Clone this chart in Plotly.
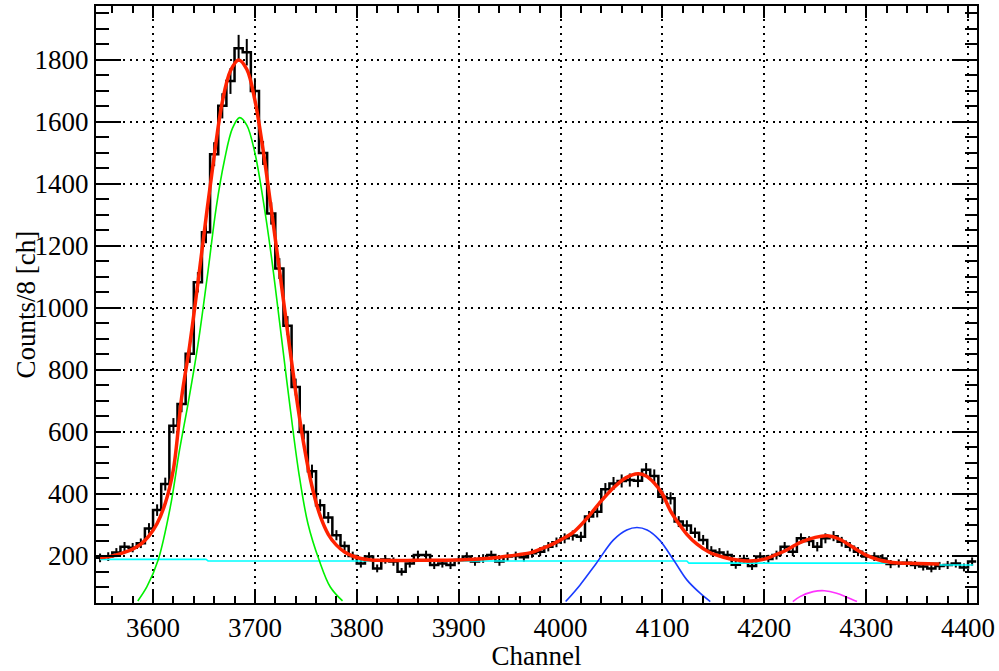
import numpy as np
import plotly.graph_objects as go

# ---------------- data ----------------
BIN_LOW = 3544
BIN_WIDTH = 8

counts = [
    194, 198, 211, 230, 227, 241, 289, 348, 432, 620,
    690, 852, 1083, 1244, 1496, 1652, 1732, 1838, 1825, 1700,
    1500, 1305, 1127, 943, 745, 600, 473, 364, 324, 267,
    232, 200, 176, 198, 160, 189, 182, 149, 176, 203,
    203, 171, 176, 171, 187, 198, 182, 192, 203, 182,
    198, 200, 196, 209, 214, 230, 244, 257, 266, 262,
    327, 343, 415, 434, 442, 445, 443, 478, 458, 391,
    386, 311, 298, 275, 252, 217, 211, 203, 172, 190,
    168, 198, 190, 203, 230, 214, 257, 248, 230, 257,
    264, 246, 230, 214, 198, 198, 192, 174, 176, 178,
    171, 166, 160, 168, 171, 176, 163, 182,
]

# total fit (red)
red_x = [3548, 3560, 3572, 3580, 3588, 3596, 3604, 3612, 3620, 3628,
         3636, 3644, 3652, 3660, 3668, 3676, 3684, 3692, 3700, 3708,
         3716, 3724, 3732, 3740, 3748, 3756, 3764, 3772, 3780, 3788,
         3796, 3804, 3812, 3820, 3860, 3900, 3920, 3940, 3960, 3970,
         3980, 3990, 4000, 4012, 4025, 4038, 4052, 4064, 4076, 4084,
         4092, 4100, 4108, 4116, 4124, 4134, 4146, 4160, 4172, 4186,
         4200, 4212, 4220, 4235, 4250, 4262, 4274, 4287, 4300, 4312,
         4324, 4336, 4350, 4372]
red_y = [195, 200, 212, 222, 238, 265, 305, 370, 480, 710,
         880, 1080, 1290, 1490, 1665, 1765, 1800, 1770, 1670, 1510,
         1320, 1125, 925, 730, 560, 425, 330, 270, 235, 213,
         200, 192, 188, 186, 186, 187, 190, 196, 205, 210,
         222, 235, 252, 275, 318, 370, 420, 452, 465, 458,
         435, 400, 345, 305, 270, 238, 212, 196, 188, 184,
         190, 205, 216, 243, 260, 265, 254, 228, 203, 188,
         180, 177, 176, 174]

# background (cyan)
bg_x = [3548, 3652, 3654, 4124, 4126, 4370, 4372, 4405]
bg_y = [189, 189, 184, 184, 177, 177, 171, 171]

# first peak component (green)
g1_x = [3585, 3594, 3605, 3617, 3626, 3635, 3644, 3654, 3662, 3670,
        3678, 3685, 3692, 3700, 3708, 3716, 3724, 3733, 3743, 3752,
        3763, 3774, 3786]
g1_y = [55, 101, 187, 359, 542, 703, 880, 1120, 1324, 1475,
        1580, 1614, 1590, 1500, 1350, 1170, 960, 720, 470, 305,
        187, 100, 55]

# second peak component (blue)
g2_x = [4005, 4019, 4035, 4052, 4065, 4075, 4085, 4097, 4111, 4124, 4137, 4147]
g2_y = [53, 106, 176, 252, 284, 292, 284, 252, 187, 123, 80, 53]

# third peak component (magenta)
g3_x = [4228, 4235, 4248, 4259, 4271, 4281, 4291]
g3_y = [53, 69, 85, 88, 80, 67, 53]

X_RANGE = [3544, 4408.8]
Y_RANGE = [48.4, 1974]

# ---------------- derived histogram geometry ----------------
counts_arr = np.array(counts, dtype=float)
edges = BIN_LOW + BIN_WIDTH * np.arange(len(counts) + 1)
centers = edges[:-1] + BIN_WIDTH / 2.0
step_y = np.append(counts_arr, counts_arr[-1])
errors = np.sqrt(counts_arr)

FONT = "Liberation Serif, Times New Roman, serif"

fig = go.Figure()

fig.add_trace(go.Scatter(
    x=edges, y=step_y, mode="lines", line=dict(color="black", width=2.5, shape="hv"),
    showlegend=False, hoverinfo="skip"))
fig.add_trace(go.Scatter(
    x=centers, y=counts_arr, mode="markers", marker=dict(size=0.1, color="black"),
    error_y=dict(type="data", array=errors, visible=True, color="black", thickness=2, width=0),
    showlegend=False))

fig.add_trace(go.Scatter(x=bg_x, y=bg_y, mode="lines",
                         line=dict(color="#00ffff", width=1.6), showlegend=False))
fig.add_trace(go.Scatter(x=g1_x, y=g1_y, mode="lines",
                         line=dict(color="#00f000", width=1.6, shape="spline"), showlegend=False))
fig.add_trace(go.Scatter(x=g2_x, y=g2_y, mode="lines",
                         line=dict(color="#1a3cff", width=1.6, shape="spline"), showlegend=False))
fig.add_trace(go.Scatter(x=g3_x, y=g3_y, mode="lines",
                         line=dict(color="#ff33ff", width=1.6, shape="spline"), showlegend=False))
fig.add_trace(go.Scatter(x=red_x, y=red_y, mode="lines",
                         line=dict(color="#ff2200", width=3.5, shape="spline"), showlegend=False))

axis_common = dict(
    showline=True, linecolor="black", linewidth=2, mirror="ticks",
    ticks="inside", tickcolor="black", tickwidth=1.5,
    showgrid=True, gridcolor="black", gridwidth=2, griddash="2px,4.7px",
    zeroline=False,
    tickfont=dict(family=FONT, size=27, color="black"),
)

fig.update_xaxes(
    range=X_RANGE, tick0=3600, dtick=100, ticklen=12,
    minor=dict(dtick=20, tick0=3600, ticklen=7, tickwidth=1.5, tickcolor="black", ticks="inside", showgrid=False),
    title=dict(text="Channel", font=dict(family=FONT, size=27, color="black"), standoff=4),
    **axis_common)
fig.update_yaxes(
    range=Y_RANGE, tick0=0, dtick=200, ticklen=25,
    minor=dict(dtick=50, tick0=0, ticklen=12.5, tickwidth=1.5, tickcolor="black", ticks="inside", showgrid=False),
    **axis_common)

fig.add_annotation(
    text="Counts/8 [ch]", textangle=-90, showarrow=False,
    xref="paper", yref="paper", x=(25 - 96) / 881, y=0.5,
    xanchor="center", yanchor="middle",
    font=dict(family=FONT, size=27, color="black"))

fig.update_layout(
    width=999, height=671,
    margin=dict(l=96, r=22, t=6, b=68, autoexpand=False),
    plot_bgcolor="white", paper_bgcolor="white",
    font=dict(family=FONT, color="black"),
    showlegend=False,
)

fig.write_html("out.html")
